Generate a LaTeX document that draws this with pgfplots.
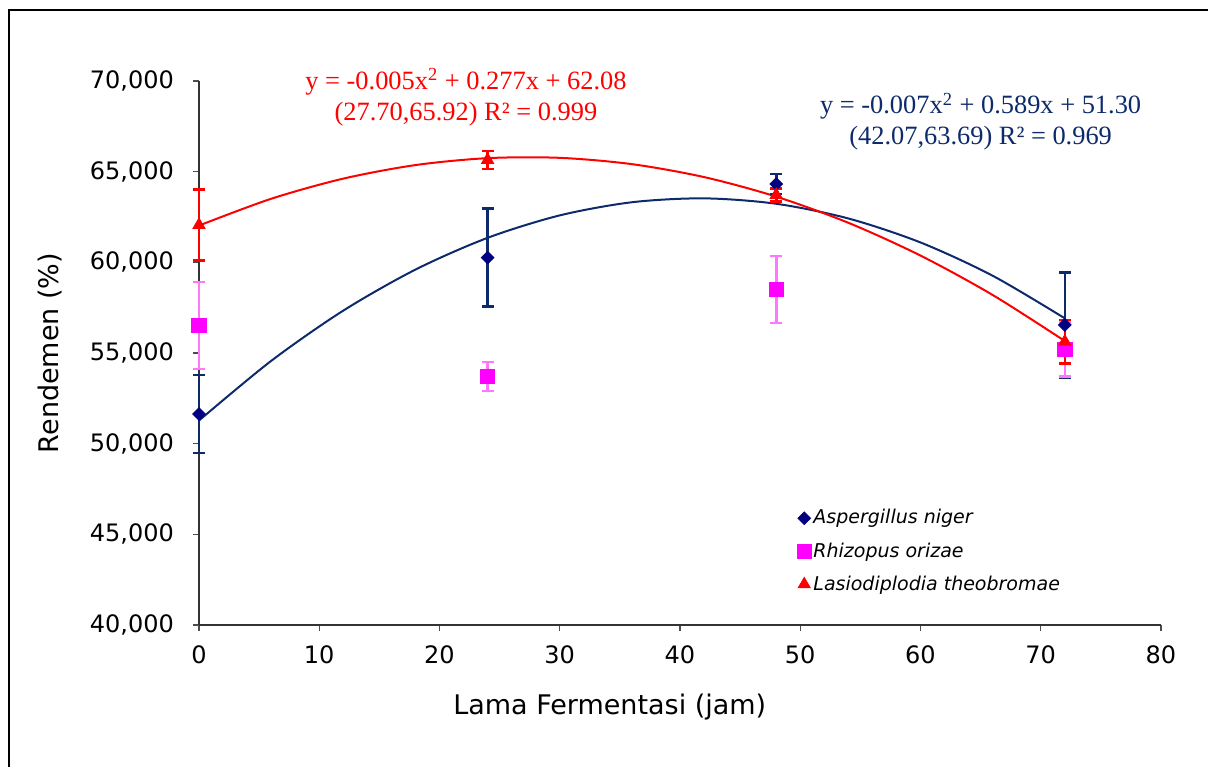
\documentclass[border=0pt]{standalone}
\usepackage{fontspec}
\setmainfont{DejaVu Sans}
\newfontfamily\eqfont{Liberation Serif}
\usepackage{pgfplots}
\pgfplotsset{compat=1.18}
\definecolor{navyMk}{HTML}{000080}
\definecolor{navyLn}{HTML}{0D2A6B}
\definecolor{magMk}{HTML}{FF00FF}
\definecolor{magErr}{HTML}{FF77FF}
\definecolor{redLn}{HTML}{FF0000}

% x  y  error
\pgfplotstableread{
x  y      e
0  51.64  2.15
24 60.26  2.70
48 64.32  0.55
72 56.55  2.90
}\aniger
\pgfplotstableread{
x  y      e
0  56.51  2.40
24 53.70  0.80
48 58.51  1.85
72 55.20  1.50
}\rorizae
\pgfplotstableread{
x  y      e
0  62.06  1.95
24 65.65  0.50
48 63.72  0.35
72 55.63  1.20
}\ltheo

\begin{document}
\begin{tikzpicture}
\useasboundingbox (0,0) rectangle (604pt,383.5pt);
\draw[line width=1pt] (4.5pt,0) -- (4.5pt,378.5pt) -- (604pt,378.5pt);
\begin{axis}[
    at={(99.5pt,71pt)}, anchor=south west,
    scale only axis, width=481pt, height=272pt,
    xmin=0, xmax=80, ymin=40, ymax=70,
    xtick={0,10,...,80}, ytick={40,45,...,70},
    axis lines*=left,
    axis line style={-, line width=0.6pt, black!80},
    tick align=outside, major tick length=3pt,
    tick style={line width=0.6pt, black!70},
    /pgf/number format/assume math mode=true,
    ticklabel style={font=\fontsize{12}{14}\selectfont},
    yticklabel style={/pgf/number format/fixed, /pgf/number format/fixed zerofill,
      /pgf/number format/precision=3, /pgf/number format/use comma,
      /pgf/number format/1000 sep={}, xshift=-6pt},
    xticklabel style={yshift=-4pt},
    xlabel={Lama Fermentasi (jam)},
    ylabel={Rendemen (\%)},
    every axis x label/.style={at={(axis description cs:0.427,0)},
      anchor=center, yshift=-41pt, font=\fontsize{13.5}{16}\selectfont},
    every axis y label/.style={at={(axis description cs:0,0.5)},
      anchor=center, xshift=-74.5pt, rotate=90, font=\fontsize{13.5}{16}\selectfont},
    clip=false,
    legend style={at={(rel axis cs:0.615,0.224)}, anchor=north west,
      draw=none, fill=none, font=\fontsize{9.5}{12}\selectfont\itshape,
      row sep=5.8pt, nodes={inner sep=1pt}},
    legend cell align=left,
    legend image code/.code={\draw[#1] plot coordinates {(0.05cm,0cm)};},
]
% trendlines (polynomial order 2)
\addplot[navyLn, line width=1pt, smooth, forget plot] coordinates {
 (0,51.277) (6,54.564) (12,57.338) (18,59.600) (24,61.351) (30,62.589)
 (36,63.314) (42,63.528) (48,63.230) (54,62.419) (60,61.096) (66,59.261) (72,56.913)};
\addplot[redLn, line width=1pt, smooth, forget plot] coordinates {
 (0,62.028) (6,63.505) (12,64.617) (18,65.364) (24,65.746) (30,65.763)
 (36,65.415) (42,64.702) (48,63.624) (54,62.181) (60,60.373) (66,58.200) (72,55.662)};

\addplot[only marks, mark=square*, mark size=2.25pt,
  mark options={rotate=45, fill=navyMk, draw=navyMk},
  error bars/.cd, y dir=both, y explicit,
  error bar style={navyLn, line width=1.3pt},
  error mark options={rotate=90, mark size=3pt, line width=1.3pt, navyLn}]
  table[x=x, y=y, y error=e] {\aniger};
\addlegendentry{Aspergillus niger}

\addplot[only marks, mark=square*, mark size=3.6pt,
  mark options={fill=magMk, draw=magMk},
  error bars/.cd, y dir=both, y explicit,
  error bar style={magErr, line width=1.3pt},
  error mark options={rotate=90, mark size=3pt, line width=1.3pt, magErr}]
  table[x=x, y=y, y error=e] {\rorizae};
\addlegendentry{Rhizopus orizae}

\addplot[only marks, mark=triangle*, mark size=3.5pt,
  mark options={fill=redLn, draw=redLn},
  error bars/.cd, y dir=both, y explicit,
  error bar style={redLn, line width=1.3pt},
  error mark options={rotate=90, mark size=3pt, line width=1.3pt, redLn}]
  table[x=x, y=y, y error=e] {\ltheo};
\addlegendentry{Lasiodiplodia theobromae}

\node[align=center, text=redLn, font=\eqfont\fontsize{13.2}{15.5}\selectfont]
  at (axis cs:22.2,69.1) {y = -0.005x\textsuperscript{2} + 0.277x + 62.08\\(27.70,65.92) R² = 0.999};
\node[align=center, text=navyLn, font=\eqfont\fontsize{13.2}{15.5}\selectfont]
  at (axis cs:65.0,67.75) {y = -0.007x\textsuperscript{2} + 0.589x + 51.30\\(42.07,63.69) R² = 0.969};
\end{axis}
\end{tikzpicture}
\end{document}
